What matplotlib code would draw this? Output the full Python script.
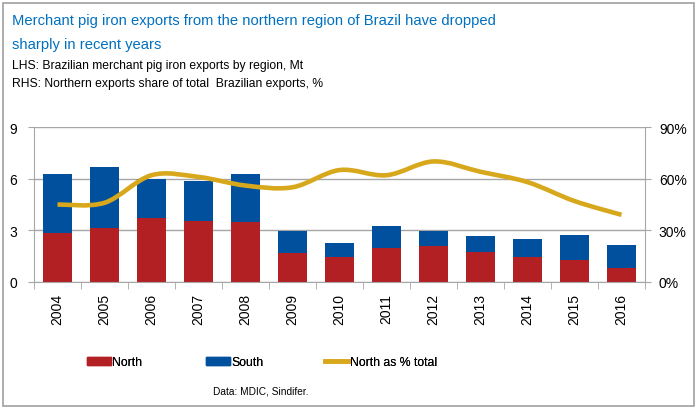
import matplotlib
matplotlib.use("Agg")
import matplotlib.pyplot as plt
from matplotlib.path import Path
from matplotlib.patches import PathPatch, Patch, Rectangle
from matplotlib.lines import Line2D
from matplotlib.ticker import FuncFormatter
import numpy as np

plt.rcParams['font.family'] = ['Liberation Sans', 'DejaVu Sans']

years = ['2004', '2005', '2006', '2007', '2008', '2009', '2010',
         '2011', '2012', '2013', '2014', '2015', '2016']
north = [2.84, 3.11, 3.71, 3.56, 3.48, 1.69, 1.48, 1.96, 2.08, 1.73, 1.44, 1.25, 0.82]
south = [3.44, 3.56, 2.27, 2.33, 2.80, 1.28, 0.81, 1.27, 0.91, 0.95, 1.07, 1.49, 1.30]
north_share = [45, 46, 62, 61, 56, 55, 65, 62, 70, 64, 58, 47, 39]
legend_labels = ['North', 'South', 'North as % total']

RED = '#B22024'
BLUE = '#00509E'
GOLD = '#D8A81C'
GRID = '#A6A6A6'
TITLE = '#0070C0'

W, H = 698, 410
fig = plt.figure(figsize=(W / 100, H / 100), dpi=100)

# outer border
fig.patches.append(Rectangle((3 / W, 3 / H), 691 / W, 403 / H, transform=fig.transFigure,
                             fill=False, edgecolor='#A0A0A0', linewidth=1.2))

ax = fig.add_axes([34 / W, (H - 283) / H, (645 - 34) / W, (283 - 128) / H])
x = np.arange(len(years))
ax.bar(x, north, width=0.6, color=RED, zorder=2)
ax.bar(x, south, width=0.6, bottom=north, color=BLUE, zorder=2)
ax.set_xlim(-0.5, len(years) - 0.5)
ax.set_ylim(0, 9)
ax.set_yticks([0, 3, 6, 9])
ax.set_xticks(x)
ax.set_xticklabels(years, rotation=90, fontsize=10)
ax.set_xticks(np.arange(-0.5, len(years), 1.0), minor=True)
ax.tick_params(axis='x', which='major', length=0, pad=8)
ax.tick_params(axis='x', which='minor', length=5, color=GRID, direction='out')
ax.tick_params(axis='y', length=4, color=GRID, labelsize=10, pad=8)
ax.yaxis.grid(True, color=GRID, linewidth=1, zorder=0)
ax.set_axisbelow(True)
for s in ['top', 'right']:
    ax.spines[s].set_visible(False)
for s in ['left', 'bottom']:
    ax.spines[s].set_color(GRID)

ax2 = ax.twinx()
ax2.set_ylim(0, 90)
ax2.set_yticks([0, 30, 60, 90])
ax2.yaxis.set_major_formatter(FuncFormatter(lambda v, p: f'{int(v)}%'))
ax2.tick_params(axis='y', length=4, color=GRID, labelsize=10, pad=6)
for s in ['top', 'left', 'bottom']:
    ax2.spines[s].set_visible(False)
ax2.spines['right'].set_color(GRID)

# smoothed line (Catmull-Rom style Bezier, like Excel smoothing)
pts = np.column_stack([x, north_share]).astype(float)
verts = [tuple(pts[0])]
codes = [Path.MOVETO]
n = len(pts)
for i in range(n - 1):
    p0 = pts[i - 1] if i > 0 else pts[i]
    p1 = pts[i]
    p2 = pts[i + 1]
    p3 = pts[i + 2] if i + 2 < n else pts[i + 1]
    c1 = p1 + (p2 - p0) / 6.0
    c2 = p2 - (p3 - p1) / 6.0
    verts += [tuple(c1), tuple(c2), tuple(p2)]
    codes += [Path.CURVE4] * 3
ax2.add_patch(PathPatch(Path(verts, codes), facecolor='none', edgecolor=GOLD,
                        linewidth=3.3, capstyle='butt', zorder=3))

# titles
fig.text(12 / W, 1 - 25 / H, 'Merchant pig iron exports from the northern region of Brazil have dropped',
         color=TITLE, fontsize=10.6, va='baseline', ha='left')
fig.text(12 / W, 1 - 49 / H, 'sharply in recent years', color=TITLE, fontsize=10.6,
         va='baseline', ha='left')
fig.text(12 / W, 1 - 69 / H, 'LHS: Brazilian merchant pig iron exports by region, Mt',
         fontsize=8.7, va='baseline', ha='left')
fig.text(12 / W, 1 - 87 / H, 'RHS: Northern exports share of total  Brazilian exports, %',
         fontsize=8.7, va='baseline', ha='left')

# legend: three single-entry legends at the reference positions
handles = [Patch(color=RED), Patch(color=BLUE), Line2D([], [], color=GOLD, linewidth=3.3)]
leg_x = [87, 206, 325]
fs = 8.8
for h, lab, lx in zip(handles, legend_labels, leg_x):
    lg = fig.legend([h], [lab], loc='center left', bbox_to_anchor=(lx / W, 1 - 363 / H),
                    frameon=False, prop={'size': fs},
                    handlelength=24 / (fs * 100 / 72), handleheight=0.62,
                    handletextpad=0.12, borderpad=0, borderaxespad=0)
    fig.add_artist(lg)

fig.text(261 / W, 1 - 392 / H, 'Data: MDIC, Sindifer.', fontsize=7.3, ha='center', va='center')

fig.savefig('out.png', dpi=100)
